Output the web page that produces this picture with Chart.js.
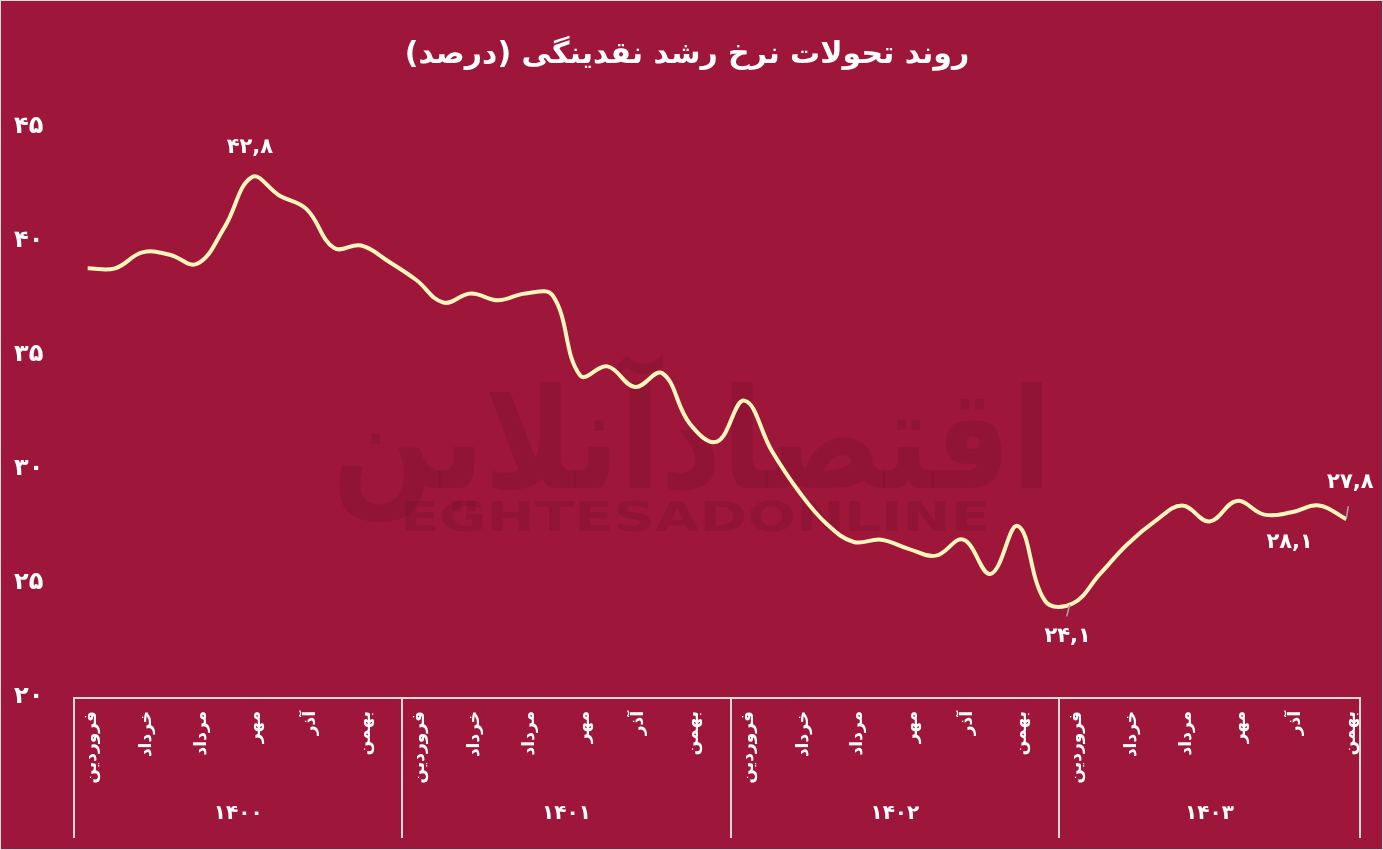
<!DOCTYPE html>
<html>
<head>
<meta charset="utf-8">
<script src="https://cdn.jsdelivr.net/npm/chart.js@4"></script>
<style>
  html, body { margin: 0; padding: 0; background: #9E163A; }
  #wrap { width: 1383px; height: 850px; position: relative; }
</style>
</head>
<body>
<div id="wrap"><canvas id="c" width="1383" height="850"></canvas></div>
<script>
// ---- data ----
const monthNames = ['فروردین','اردیبهشت','خرداد','تیر','مرداد','شهریور','مهر','آبان','آذر','دی','بهمن','اسفند'];
const years = ['۱۴۰۰','۱۴۰۱','۱۴۰۲','۱۴۰۳'];
const monthsPerYear = [12, 12, 12, 11];
const growthRate = [
  38.8, 38.8, 39.5, 39.4, 39.0, 40.6, 42.8, 42.0, 41.4, 39.7, 39.8, 39.1,
  38.3, 37.3, 37.7, 37.4, 37.7, 37.6, 34.1, 34.5, 33.6, 34.2, 32.0, 31.2,
  33.0, 30.8, 29.0, 27.6, 26.8, 26.9, 26.5, 26.2, 26.9, 25.4, 27.5, 24.2,
  24.1, 25.4, 26.7, 27.7, 28.4, 27.7, 28.6, 28.0, 28.1, 28.4, 27.8
];
const yTicks = [20, 25, 30, 35, 40, 45];
const labeledPoints = [6, 36, 44, 46];
const titleText = 'روند تحولات نرخ رشد نقدینگی (درصد)';

// ---- helpers ----
const faDigits = s => String(s).replace(/\d/g, d => '۰۱۲۳۴۵۶۷۸۹'[d]);
const categories = [];
monthsPerYear.forEach((n, yi) => { for (let m = 0; m < n; m++) categories.push(monthNames[m]); });

const BG = '#9E163A';
const LINE = '#FFF6BC';
const AXIS = '#D9D9D9';
const FONT = "'DejaVu Sans', sans-serif";

const bgPlugin = {
  id: 'bg',
  beforeDraw(chart) {
    const ctx = chart.ctx;
    ctx.save();
    ctx.fillStyle = BG;
    ctx.fillRect(0, 0, chart.width, chart.height);
    ctx.strokeStyle = AXIS;
    ctx.lineWidth = 2;
    ctx.strokeRect(0, 0, chart.width, chart.height);
    // watermark
    ctx.fillStyle = 'rgba(0,0,0,0.07)';
    ctx.textAlign = 'center';
    ctx.textBaseline = 'alphabetic';
    ctx.font = 'bold 140px ' + FONT;
    let w = ctx.measureText('اقتصادآنلاین').width;
    ctx.translate(692, 488);
    ctx.scale(720 / w, 1);
    ctx.fillText('اقتصادآنلاین', 0, 0);
    ctx.setTransform(1, 0, 0, 1, 0, 0);
    ctx.font = 'bold 40px ' + FONT;
    w = ctx.measureText('EGHTESADONLINE').width;
    ctx.translate(695, 531);
    ctx.scale(590 / w, 1);
    ctx.fillText('EGHTESADONLINE', 0, 0);
    ctx.restore();
  }
};

const axisPlugin = {
  id: 'axisDecor',
  afterDraw(chart) {
    const ctx = chart.ctx;
    const xs = chart.scales.x;
    const area = chart.chartArea;
    ctx.save();
    ctx.strokeStyle = AXIS;
    ctx.lineWidth = 2;
    ctx.beginPath();
    ctx.moveTo(area.left, area.bottom + 1);
    ctx.lineTo(area.right, area.bottom + 1);
    ctx.stroke();
    let start = 0;
    const bounds = [-0.5];
    monthsPerYear.forEach(n => { start += n; bounds.push(start - 0.5); });
    ctx.beginPath();
    bounds.forEach(b => {
      const x = Math.round(xs.getPixelForValue(b));
      ctx.moveTo(x, area.bottom);
      ctx.lineTo(x, 838);
    });
    ctx.stroke();
    ctx.fillStyle = '#FFFFFF';
    ctx.font = 'bold 20px ' + FONT;
    ctx.textAlign = 'center';
    ctx.textBaseline = 'middle';
    years.forEach((yr, i) => {
      const mid = (xs.getPixelForValue(bounds[i]) + xs.getPixelForValue(bounds[i + 1])) / 2;
      ctx.fillText(yr, mid, 814);
    });
    ctx.restore();
  }
};

const labelPlugin = {
  id: 'dataLabels',
  afterDatasetsDraw(chart) {
    const ctx = chart.ctx;
    const meta = chart.getDatasetMeta(0);
    const place = {
      6:  { dx: -2, dy: -30, lead: false },
      36: { dx: -5, dy: 33, lead: true },
      44: { dx: -2, dy: 30, lead: false },
      46: { dx: 4, dy: -37, lead: true }
    };
    ctx.save();
    ctx.font = 'bold 21px ' + FONT;
    ctx.fillStyle = '#FFFFFF';
    ctx.textAlign = 'center';
    ctx.textBaseline = 'middle';
    labeledPoints.forEach(i => {
      const p = meta.data[i];
      const o = place[i];
      const txt = faDigits(growthRate[i].toFixed(1)).replace('.', ',');
      if (o.lead) {
        ctx.strokeStyle = '#A6A6A6';
        ctx.lineWidth = 1.5;
        ctx.beginPath();
        if (i === 36) { ctx.moveTo(p.x - 3, p.y + 1); ctx.lineTo(p.x - 6, p.y + 13); }
        else { ctx.moveTo(p.x, p.y - 1); ctx.lineTo(p.x + 2, p.y - 13); }
        ctx.stroke();
      }
      ctx.fillText(txt, p.x + o.dx, p.y + o.dy);
    });
    ctx.restore();
  }
};

new Chart(document.getElementById('c'), {
  type: 'line',
  data: {
    labels: categories,
    datasets: [{
      data: growthRate,
      borderColor: LINE,
      borderWidth: 4,
      pointRadius: 0,
      pointHoverRadius: 0,
      tension: 0.4,
      fill: false
    }]
  },
  options: {
    responsive: false,
    animation: false,
    events: [],
    layout: { padding: { left: 14, right: 23, top: 0, bottom: 1 } },
    plugins: {
      legend: { display: false },
      tooltip: { enabled: false },
      title: {
        display: true,
        text: titleText,
        color: '#FFFFFF',
        font: { family: FONT, size: 30, weight: 'bold' },
        padding: { top: 37, bottom: 54 }
      }
    },
    scales: {
      x: {
        type: 'category',
        offset: true,
        grid: { display: false, drawTicks: false },
        border: { display: false },
        afterFit(s) { s.height = 152; },
        ticks: {
          autoSkip: false,
          minRotation: 90,
          maxRotation: 90,
          padding: 14,
          labelOffset: 4,
          color: '#FFFFFF',
          font: { family: FONT, size: 17, weight: 'bold' },
          callback(v, i) { return (i % 12) % 2 === 0 ? categories[i] : ''; }
        }
      },
      y: {
        min: 20,
        max: 45,
        afterFit(s) { s.width = 60; },
        afterBuildTicks(s) { s.ticks = yTicks.map(v => ({ value: v })); },
        grid: { display: false, drawTicks: false },
        border: { display: false },
        ticks: {
          crossAlign: 'far',
          color: '#FFFFFF',
          font: { family: FONT, size: 24, weight: 'bold' },
          callback(v) { return faDigits(v); }
        }
      }
    }
  },
  plugins: [bgPlugin, axisPlugin, labelPlugin]
});
</script>
</body>
</html>
